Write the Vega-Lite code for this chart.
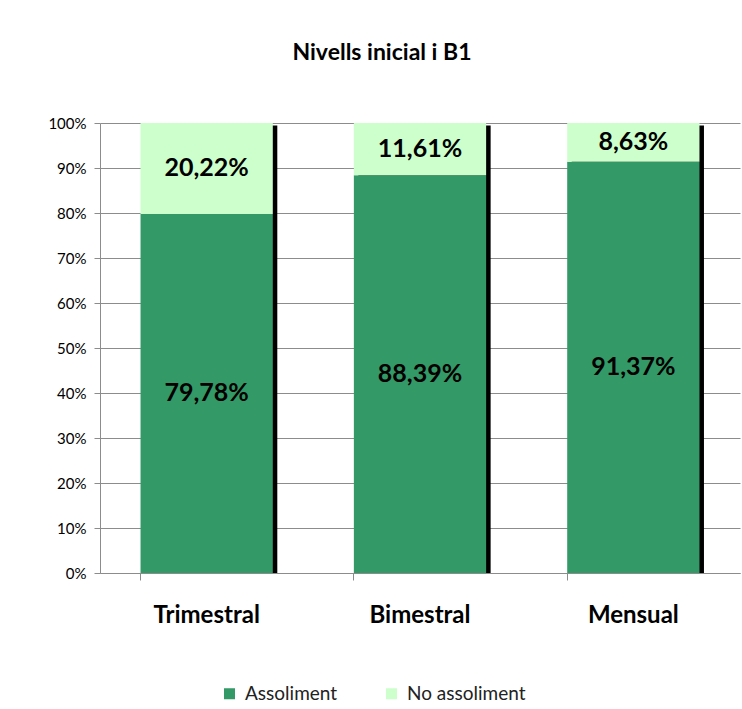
{
  "$schema": "https://vega.github.io/schema/vega-lite/v6.json",
  "autosize": {"type": "none"},
  "width": 640,
  "height": 450,
  "padding": {"left": 100, "top": 123, "right": 2, "bottom": 136},
  "background": "white",
  "title": {
    "text": "Nivells inicial i B1",
    "font": "Lato",
    "fontSize": 23,
    "fontWeight": "bold",
    "color": "black",
    "baseline": "alphabetic",
    "offset": 33,
    "dx": -38
  },
  "data": {
    "values": [
      {"periode": "Trimestral", "serie": "Assoliment", "v": 0.7978},
      {"periode": "Trimestral", "serie": "No assoliment", "v": 0.2022},
      {"periode": "Bimestral", "serie": "Assoliment", "v": 0.8839},
      {"periode": "Bimestral", "serie": "No assoliment", "v": 0.1161},
      {"periode": "Mensual", "serie": "Assoliment", "v": 0.9137},
      {"periode": "Mensual", "serie": "No assoliment", "v": 0.0863}
    ]
  },
  "encoding": {
    "x": {
      "field": "periode",
      "type": "nominal",
      "sort": ["Trimestral", "Bimestral", "Mensual"],
      "scale": {"paddingInner": 0.38, "paddingOuter": 0.19},
      "axis": {
        "title": null,
        "labelAngle": 0,
        "labelFont": "Lato",
        "labelFontSize": 24,
        "labelFontWeight": "bold",
        "labelColor": "black",
        "labelPadding": 23,
        "bandPosition": 0,
        "tickSize": 7,
        "tickColor": "#8c8c8c",
        "domainColor": "#8c8c8c",
        "grid": false
      }
    }
  },
  "layer": [
    {
      "mark": {"type": "bar", "color": "black", "xOffset": 4.5, "yOffset": 2.5, "clip": true},
      "encoding": {
        "y": {"aggregate": "sum", "field": "v", "type": "quantitative", "scale": {"domain": [0, 1]}}
      }
    },
    {
      "mark": {"type": "bar"},
      "encoding": {
        "y": {
          "field": "v",
          "type": "quantitative",
          "stack": "zero",
          "scale": {"domain": [0, 1]},
          "axis": {
            "title": null,
            "format": "0%",
            "values": [0, 0.1, 0.2, 0.3, 0.4, 0.5, 0.6, 0.7, 0.8, 0.9, 1],
            "labelOverlap": false,
            "labelFont": "Lato",
            "labelFontSize": 15,
            "labelColor": "black",
            "labelPadding": 8,
            "tickSize": 6,
            "tickColor": "#8c8c8c",
            "domainColor": "#8c8c8c",
            "gridColor": "#8c8c8c",
            "gridWidth": 1
          }
        },
        "order": {"field": "serie", "sort": "ascending"},
        "color": {
          "field": "serie",
          "type": "nominal",
          "scale": {"domain": ["Assoliment", "No assoliment"], "range": ["#339966", "#ccffcc"]},
          "legend": {
            "title": null,
            "orient": "none",
            "direction": "horizontal",
            "legendX": 120,
            "legendY": 561,
            "padding": 0,
            "symbolType": "square",
            "symbolSize": 121,
            "symbolStrokeWidth": 0,
            "labelFont": "Lato",
            "labelFontSize": 19,
            "labelColor": "#222222",
            "labelOffset": 6,
            "columnPadding": 44
          }
        }
      }
    },
    {
      "mark": {"type": "text", "font": "Lato", "fontSize": 25, "fontWeight": "bold", "color": "black", "baseline": "middle"},
      "encoding": {
        "y": {"field": "v", "type": "quantitative", "stack": "zero", "bandPosition": 0.5},
        "detail": {"field": "serie"},
        "order": {"field": "serie", "sort": "ascending"},
        "text": {"field": "v", "type": "quantitative", "format": ".2%"}
      }
    }
  ],
  "config": {
    "locale": {"number": {"decimal": ",", "thousands": ".", "grouping": [3], "currency": ["", " €"]}},
    "view": {"stroke": null}
  }
}
